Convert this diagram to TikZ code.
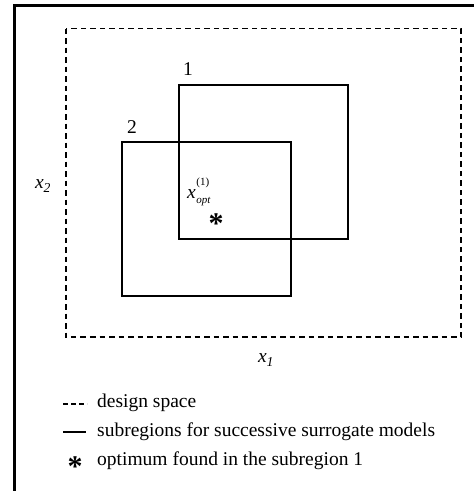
\documentclass[tikz,border=0pt]{standalone}
\usepackage{fontspec}
\setmainfont{Liberation Serif}
\begin{document}
\begin{tikzpicture}[x=1pt,y=-1pt,
  lbl/.style={inner sep=0pt,font=\fontsize{19.5}{21.5}\selectfont},
  ast/.style={inner sep=0pt,font=\fontsize{30}{30}\selectfont\bfseries},
  region/.style={draw,line width=1.6pt},
  dspace/.style={draw,line width=1.6pt,dash pattern=on 5.5pt off 4pt}]
\useasboundingbox (0,0) rectangle (474,491);
% frame (top and left only)
\draw[line width=2.6pt] (14.5,491) -- (14.5,5.5) -- (474,5.5);
% design space
\draw[dspace] (66,28.5) rectangle (461,337);
% subregions
\draw[region] (179,85) rectangle (348,239);
\draw[region] (122,142) rectangle (291,296);
% labels
\node[lbl] (n1) at (188,69) {1};
\node[lbl] (n2) at (132,127) {2};
\node[lbl] (x2) at (43,186) {\textit{x}\textsubscript{\textit{2}}};
\node[lbl] (x1) at (266,360) {\textit{x}\textsubscript{\textit{1}}};
\node[lbl,anchor=west] (xopt) at (187,192) {\textit{x}\kern0.5pt\rlap{\raisebox{1.4ex}{\fontsize{11}{11}\selectfont (1)}}\raisebox{-0.55ex}{\fontsize{11}{11}\selectfont\itshape opt}};
\node[ast] (opt) at (216,224) {*};
% legend
\coordinate (d1) at (63,404);
\coordinate (d2) at (87,404);
\draw[line width=1.6pt,dash pattern=on 5pt off 3pt] (d1) -- (d2);
\node[lbl,anchor=west] (t1) at (97,403) {design space};
\coordinate (s1) at (63,432);
\coordinate (s2) at (86,432);
\draw[line width=1.6pt] (s1) -- (s2);
\node[lbl,anchor=west] (t2) at (97,432) {subregions for successive surrogate models};
\node[ast] (la) at (75,467) {*};
\node[lbl,anchor=west] (t3) at (97,461) {optimum found in the subregion 1};
\end{tikzpicture}
\end{document}
